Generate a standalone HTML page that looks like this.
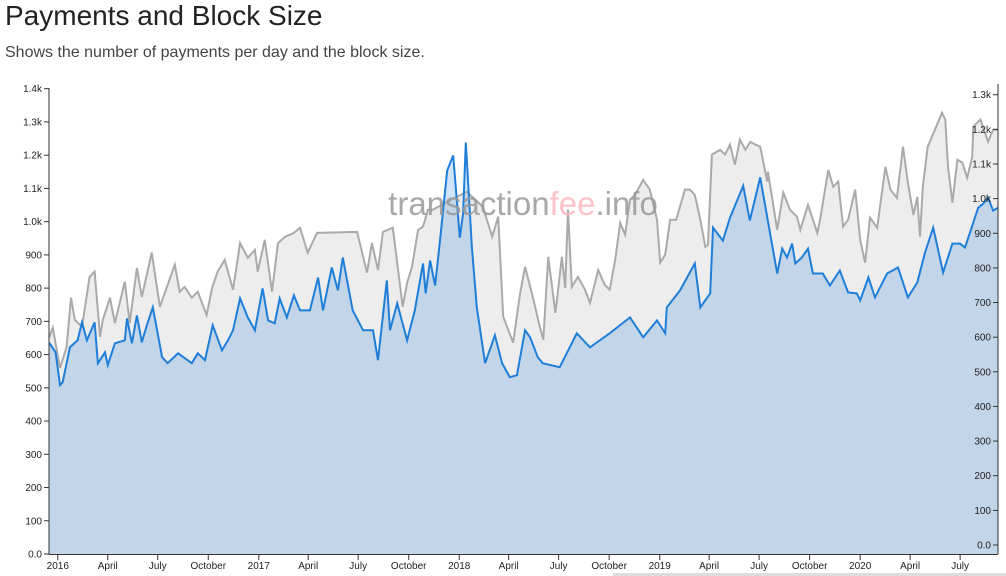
<!DOCTYPE html>
<html><head><meta charset="utf-8"><style>
body{margin:0;background:#fff;width:1006px;height:576px;overflow:hidden;font-family:"Liberation Sans",sans-serif;}
#t{position:absolute;left:5px;top:0px;font-size:28px;color:#222;margin:0;font-weight:normal;}
#s{position:absolute;left:5px;top:44px;font-size:16px;color:#444;}
svg{position:absolute;left:0;top:0;}
#sb{position:absolute;left:613px;top:573px;width:393px;height:3px;background:#ddd;}
</style></head><body>
<h1 id="t">Payments and Block Size</h1>
<div id="s">Shows the number of payments per day and the block size.</div>
<div id="sb"></div>
<svg id="c" width="1006" height="576"></svg>
<script>
const blueDays=[-16,-15,-4,4,9,22,36,44,53,67,73,86,91,104,122,126,135,144,153,162,173,190,200,219,244,255,268,282,299,310,319,332,346,359,373,383,395,404,417,430,441,459,474,483,499,510,519,537,556,574,583,599,605,618,636,650,665,670,678,687,696,709,720,732,738,743,754,763,778,796,809,823,836,851,860,874,883,914,945,969,1005,1042,1066,1091,1106,1109,1133,1160,1170,1188,1193,1211,1224,1248,1260,1279,1297,1310,1319,1328,1337,1343,1355,1366,1375,1393,1406,1424,1439,1455,1461,1476,1488,1510,1530,1548,1565,1579,1594,1612,1629,1643,1652,1667,1676,1685,1694,1703,1712];
const payments=[634,634,607,508,517,622,643,697,643,697,574,607,568,634,643,709,634,718,637,688,742,592,574,604,574,604,583,688,613,643,673,769,712,673,799,703,694,769,712,778,733,733,832,733,862,793,892,733,673,673,583,823,673,754,643,733,874,784,883,808,943,1154,1199,952,1024,1238,922,742,574,658,574,532,538,673,652,592,574,562,664,622,664,712,652,703,664,742,793,874,742,784,982,943,1012,1108,1003,1133,964,844,919,892,934,874,892,919,844,844,808,853,787,784,763,832,772,844,862,772,817,907,982,847,934,934,922,997,1042,1054,1072,1033,1042];
const grayDays=[-16,-15,-9,4,16,24,31,44,58,67,77,82,95,104,122,131,144,153,171,186,213,222,231,244,255,271,281,291,304,319,332,346,359,364,377,390,401,414,430,441,455,472,545,563,572,583,592,610,628,636,645,656,665,674,683,709,745,774,791,802,811,829,842,851,865,876,884,893,906,918,924,929,936,947,960,969,984,996,1005,1015,1024,1033,1042,1051,1066,1078,1091,1097,1106,1115,1126,1142,1151,1160,1170,1179,1184,1191,1206,1215,1224,1233,1242,1252,1261,1270,1279,1292,1293,1310,1321,1333,1346,1352,1366,1383,1388,1403,1412,1421,1430,1439,1452,1461,1470,1479,1492,1507,1516,1528,1539,1548,1558,1565,1570,1575,1584,1601,1610,1616,1621,1629,1638,1647,1656,1665,1667,1680,1694,1703,1712];
const blockSize=[601,601,627,511,572,714,650,630,774,789,601,650,714,641,760,641,800,716,844,688,809,731,745,714,731,664,742,789,823,737,872,829,852,789,881,731,872,890,901,916,844,901,904,786,872,794,904,916,688,757,803,910,919,968,968,991,1020,976,890,948,659,584,728,803,716,641,592,832,670,832,742,968,745,774,737,699,794,751,737,823,930,896,997,1011,1054,1026,939,815,838,939,939,1026,1026,1011,939,861,867,1127,1141,1127,1156,1098,1170,1141,1164,1156,1150,1049,1078,910,1017,968,948,910,982,901,939,1083,1034,1049,919,939,1026,881,815,945,916,1092,1026,1002,1150,1046,953,1005,890,1034,1150,1213,1248,1228,1092,988,1112,1104,1060,1121,1208,1228,1164,1199,1199];
const leftTicks=[0,100,200,300,400,500,600,700,800,900,1000,1100,1200,1300,1400];
const leftLabels=["0.0","100","200","300","400","500","600","700","800","900","1.0k","1.1k","1.2k","1.3k","1.4k"];
const rightTicks=[0,100,200,300,400,500,600,700,800,900,1000,1100,1200,1300];
const rightLabels=["0.0","100","200","300","400","500","600","700","800","900","1.0k","1.1k","1.2k","1.3k"];
const xTickDays=[0,91,182,274,366,456,547,639,731,821,912,1004,1096,1186,1277,1369,1461,1552,1643];
const xTickLabels=["2016","April","July","October","2017","April","July","October","2018","April","July","October","2019","April","July","October","2020","April","July"];

const X0=49,X1=998,D0=-16,D1=1712;
const x=d=>X0+(d-D0)/(D1-D0)*(X1-X0);
const yL=v=>554-v/1400*(554-88.7);
const yR=v=>545-v/1300*(545-94.7);
const NS="http://www.w3.org/2000/svg";
const svg=document.getElementById('c');
function mk(tag,attrs,parent){const e=document.createElementNS(NS,tag);for(const k in attrs)e.setAttribute(k,attrs[k]);(parent||svg).appendChild(e);return e;}

let gp=grayDays.map((d,i)=>x(d).toFixed(1)+','+yR(blockSize[i]).toFixed(1));
const ga=mk('path',{d:'M'+x(grayDays[0])+',554L'+gp.join('L')+'L'+x(grayDays[grayDays.length-1])+',554Z',fill:'#ededed'});


let bp=blueDays.map((d,i)=>x(d).toFixed(1)+','+yL(payments[i]).toFixed(1));
const ba=mk('path',{d:'M'+x(blueDays[0])+',554L'+bp.join('L')+'L'+x(blueDays[blueDays.length-1])+',554Z',fill:'rgb(30,120,220)','fill-opacity':'0.2'});


const gl=mk('path',{d:'M'+gp.join('L'),fill:'none',stroke:'#aaa','stroke-width':2});


const bl=mk('path',{d:'M'+bp.join('L'),fill:'none',stroke:'#1f7fd8','stroke-width':2});



const wm=mk('text',{x:523,y:215,'text-anchor':'middle','font-size':33,fill:'#999','fill-opacity':'0.85'});


wm.innerHTML='transaction<tspan fill="#ffb6c1">fee</tspan>.info';

const la=mk('g',{});


mk('line',{x1:X0,x2:X0,y1:88,y2:554,stroke:'#333'},la);
leftTicks.forEach((v,i)=>{const y=yL(v);mk('line',{x1:X0-5,x2:X0,y1:y,y2:y,stroke:'#333'},la);
 const t=mk('text',{x:X0-7,y:y+3.5,'text-anchor':'end','font-size':10,fill:'#222'},la);t.textContent=leftLabels[i];
 
 });
const ra=mk('g',{});


mk('line',{x1:X1,x2:X1,y1:84,y2:554,stroke:'#333'},ra);
rightTicks.forEach((v,i)=>{const y=yR(v);mk('line',{x1:X1-5,x2:X1,y1:y,y2:y,stroke:'#333'},ra);
 const t=mk('text',{x:X1-7,y:y+3.5,'text-anchor':'end','font-size':10,fill:'#222'},ra);t.textContent=rightLabels[i];
 
 });
const xa=mk('g',{});


mk('line',{x1:X0,x2:X1,y1:554.5,y2:554.5,stroke:'#333'},xa);
xTickDays.forEach((d,i)=>{const xx=x(d);mk('line',{x1:xx,x2:xx,y1:554,y2:560,stroke:'#333'},xa);
 const t=mk('text',{x:xx,y:569,'text-anchor':'middle','font-size':10,fill:'#222'},xa);t.textContent=xTickLabels[i];
 
 });
</script>
</body></html>
